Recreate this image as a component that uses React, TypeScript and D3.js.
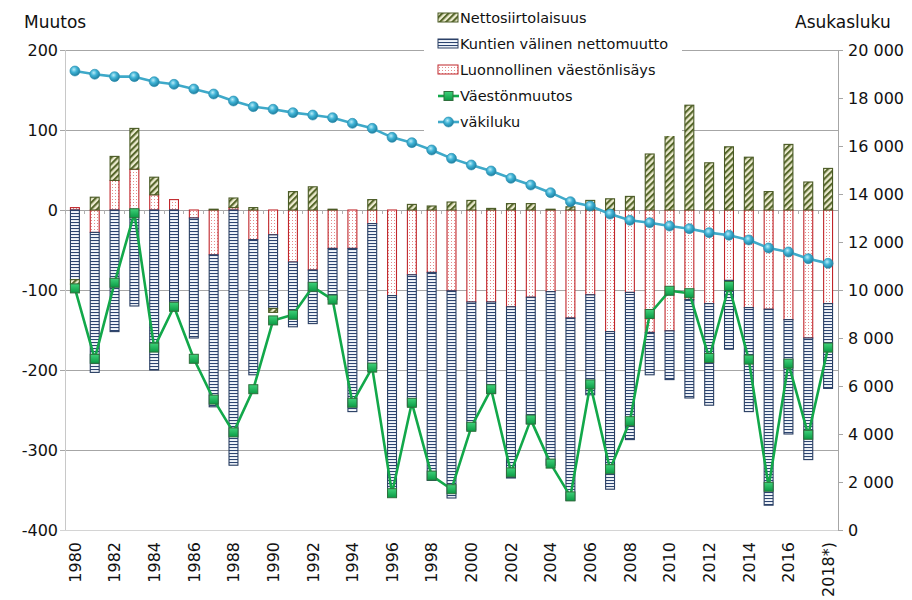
import React from "react";
import * as d3 from "d3";

const years = [1980, 1981, 1982, 1983, 1984, 1985, 1986, 1987, 1988, 1989, 1990, 1991, 1992, 1993, 1994, 1995, 1996, 1997, 1998, 1999, 2000, 2001, 2002, 2003, 2004, 2005, 2006, 2007, 2008, 2009, 2010, 2011, 2012, 2013, 2014, 2015, 2016, 2017, 2018];
const yearLabels = ["1980", "1981", "1982", "1983", "1984", "1985", "1986", "1987", "1988", "1989", "1990", "1991", "1992", "1993", "1994", "1995", "1996", "1997", "1998", "1999", "2000", "2001", "2002", "2003", "2004", "2005", "2006", "2007", "2008", "2009", "2010", "2011", "2012", "2013", "2014", "2015", "2016", "2017", "2018*)"];

// Luonnollinen väestönlisäys
const natural = [3, -28, 37, 51, 19, 13, -10, -56, 3, -37, -31, -65, -75, -48, -48, -17, -107, -81, -78, -101, -115, -115, -121, -109, -102, -135, -106, -152, -103, -153, -151, -112, -117, -88, -122, -124, -137, -160, -117];
// Kuntien välinen nettomuutto
const interMunicipal = [-87, -175, -152, -120, -200, -115, -150, -190, -319, -169, -92, -81, -67, -64, -204, -181, -251, -164, -260, -259, -160, -114, -214, -158, -217, -228, -125, -197, -184, -53, -61, -123, -127, -86, -130, -245, -143, -152, -106];
// Nettosiirtolaisuus
const immigration = [-6, 16, 30, 51, 22, 0, 0, 1, 12, 3, -5, 23, 29, 1, 0, 13, 0, 7, 5, 10, 12, 2, 8, 8, 1, 4, 12, 14, 17, 70, 96, 131, 59, 79, 66, 23, 82, 35, 52];
// Väestönmuutos
const change = [-98, -186, -91, -4, -172, -121, -186, -237, -278, -224, -138, -131, -96, -112, -241, -197, -354, -241, -332, -349, -271, -224, -328, -262, -317, -358, -218, -324, -264, -130, -101, -104, -185, -95, -187, -346, -192, -281, -172];
// väkiluku
const population = [19125, 18990, 18890, 18890, 18680, 18570, 18375, 18167, 17875, 17640, 17530, 17390, 17290, 17180, 16945, 16735, 16360, 16140, 15835, 15485, 15210, 14960, 14655, 14375, 14055, 13680, 13500, 13165, 12905, 12805, 12665, 12555, 12390, 12280, 12085, 11750, 11585, 11305, 11110];

const leftTicks = [-400, -300, -200, -100, 0, 100, 200];
const rightTicks = [0, 2000, 4000, 6000, 8000, 10000, 12000, 14000, 16000, 18000, 20000];
const leftTitle = "Muutos";
const rightTitle = "Asukasluku";
const legendNames = ["Nettosiirtolaisuus", "Kuntien välinen nettomuutto", "Luonnollinen väestönlisäys", "Väestönmuutos", "väkiluku"];

const FONT = "'DejaVu Sans', Verdana, sans-serif";

export default function App() {
  const plot = { left: 65, right: 838, top: 50, bottom: 530 };
  const x = d3.scaleBand<number>().domain(years).range([plot.left, plot.right]).padding(0);
  const yL = d3.scaleLinear().domain([-400, 200]).range([plot.bottom, plot.top]);
  const yR = d3.scaleLinear().domain([0, 20000]).range([plot.bottom, plot.top]);
  const cx = (yr: number) => (x(yr) as number) + x.bandwidth() / 2;
  const bw = x.bandwidth() * 0.45;

  const table = years.map((yr, i) => ({ year: yr, nat: natural[i], inter: interMunicipal[i], imm: immigration[i] }));
  const stacked = d3.stack<any>().keys(["nat", "inter", "imm"]).offset(d3.stackOffsetDiverging)(table);
  const fills: Record<string, string> = { nat: "url(#dots)", inter: "url(#stripes)", imm: "url(#hatch)" };
  const strokes: Record<string, string> = { nat: "#c0262b", inter: "#2a3f63", imm: "#4a5a25" };

  const fmtR = d3.formatLocale({ decimal: ",", thousands: " ", grouping: [3], currency: ["", ""] }).format(",");

  const changeLine = d3.line<number>().x((_, i) => cx(years[i])).y((d) => yL(d))(change) as string;
  const popLine = d3.line<number>().x((_, i) => cx(years[i])).y((d) => yR(d))(population) as string;

  const zeroY = yL(0);
  const step = x.step();
  const legendY = [18, 44, 70, 96, 122];
  const lgX = 438;

  return (
    <div style={{ position: "absolute", left: 0, top: 0, width: 912, height: 600, background: "#fff" }}>
      <svg width={912} height={600} style={{ display: "block", fontFamily: FONT }}>
        <defs>
          <pattern id="hatch" patternUnits="userSpaceOnUse" width="4.4" height="4.4" patternTransform="rotate(45)">
            <rect width="4.4" height="4.4" fill="#ecebcf" />
            <rect width="2.1" height="4.4" fill="#55662a" />
          </pattern>
          <pattern id="stripes" patternUnits="userSpaceOnUse" width="6" height="3">
            <rect width="6" height="3" fill="#f1f5fa" />
            <rect width="6" height="1.05" fill="#2c4470" />
          </pattern>
          <pattern id="dots" patternUnits="userSpaceOnUse" width="3" height="3">
            <rect width="3" height="3" fill="#ffffff" />
            <rect x="1" y="1" width="1" height="1" fill="#e58a8a" />
          </pattern>
          <radialGradient id="ball" cx="40%" cy="35%" r="65%">
            <stop offset="0%" stopColor="#b9ecf8" />
            <stop offset="45%" stopColor="#3fb3d6" />
            <stop offset="100%" stopColor="#1f7f9f" />
          </radialGradient>
          <linearGradient id="sq" x1="0" y1="0" x2="0" y2="1">
            <stop offset="0%" stopColor="#3fd27a" />
            <stop offset="100%" stopColor="#0a9a44" />
          </linearGradient>
        </defs>

        {/* gridlines */}
        {leftTicks.map((t) => (
          <line key={"g" + t} x1={plot.left - 5} x2={plot.right} y1={yL(t)} y2={yL(t)}
            stroke={t === -400 ? "#d4d4d4" : "#a6a6a6"} strokeWidth={1} shapeRendering="crispEdges" />
        ))}
        {/* left axis */}
        <line x1={plot.left} x2={plot.left} y1={plot.top} y2={plot.bottom} stroke="#c8c8c8" shapeRendering="crispEdges" />
        {/* right axis */}
        <line x1={plot.right} x2={plot.right} y1={plot.top} y2={plot.bottom} stroke="#a6a6a6" shapeRendering="crispEdges" />
        {rightTicks.map((t) => (
          <line key={"rt" + t} x1={plot.right} x2={plot.right + 5} y1={yR(t)} y2={yR(t)} stroke="#a6a6a6" shapeRendering="crispEdges" />
        ))}
        {/* category axis ticks at zero */}
        {years.map((yr, i) => (
          <line key={"ct" + yr} x1={plot.left + i * step} x2={plot.left + i * step} y1={zeroY} y2={zeroY + 4} stroke="#b0b0b0" shapeRendering="crispEdges" />
        ))}

        {/* bars */}
        {stacked.map((s) => (
          <g key={s.key}>
            {s.map((d: any, i: number) => {
              const y0 = yL(d[0]);
              const y1 = yL(d[1]);
              const h = Math.abs(y0 - y1);
              if (h < 0.01) return null;
              return (
                <rect key={i} x={cx(years[i]) - bw / 2} y={Math.min(y0, y1)} width={bw} height={h}
                  fill={fills[s.key as string]} stroke={strokes[s.key as string]} strokeWidth={1.1} />
              );
            })}
          </g>
        ))}

        {/* Väestönmuutos line */}
        <path d={changeLine} fill="none" stroke="#12a84a" strokeWidth={2.6} strokeLinejoin="round" />
        {change.map((v, i) => (
          <rect key={"m" + i} x={cx(years[i]) - 4.5} y={yL(v) - 4.5} width={9} height={9}
            fill="url(#sq)" stroke="#2f6f3c" strokeWidth={1} />
        ))}

        {/* väkiluku line */}
        <path d={popLine} fill="none" stroke="#3ea9c9" strokeWidth={2.6} strokeLinejoin="round" />
        {population.map((v, i) => (
          <circle key={"p" + i} cx={cx(years[i])} cy={yR(v)} r={5} fill="url(#ball)" stroke="#2a8fb0" strokeWidth={0.6} />
        ))}

        {/* legend */}
        <rect x={424} y={4} width={258} height={132} fill="#ffffff" />
        <rect x={lgX} y={legendY[0] - 5} width={20} height={9} fill="url(#hatch)" stroke={strokes.imm} strokeWidth={1} />
        <rect x={lgX} y={legendY[1] - 5} width={20} height={9} fill="url(#stripes)" stroke={strokes.inter} strokeWidth={1} />
        <rect x={lgX} y={legendY[2] - 5} width={20} height={9} fill="url(#dots)" stroke={strokes.nat} strokeWidth={1} />
        <line x1={lgX} x2={lgX + 21} y1={legendY[3]} y2={legendY[3]} stroke="#12a84a" strokeWidth={2.6} />
        <rect x={lgX + 10.5 - 4.5} y={legendY[3] - 4.5} width={9} height={9} fill="url(#sq)" stroke="#2f6f3c" strokeWidth={1} />
        <line x1={lgX} x2={lgX + 21} y1={legendY[4]} y2={legendY[4]} stroke="#3ea9c9" strokeWidth={2.6} />
        <circle cx={lgX + 10.5} cy={legendY[4]} r={5} fill="url(#ball)" stroke="#2a8fb0" strokeWidth={0.6} />
        {legendNames.map((n, i) => (
          <text key={n} x={lgX + 22} y={legendY[i]} dy="0.36em" fontSize={14.5} fill="#111">{n}</text>
        ))}

        {/* left tick labels */}
        {leftTicks.map((t) => (
          <text key={"lt" + t} x={58} y={yL(t)} dy="0.36em" textAnchor="end" fontSize={16} fill="#111">{String(t)}</text>
        ))}
        {/* right tick labels */}
        {rightTicks.map((t) => (
          <text key={"rl" + t} x={848} y={yR(t)} dy="0.36em" textAnchor="start" fontSize={16} fill="#111">{fmtR(t)}</text>
        ))}
        {/* x labels */}
        {years.map((yr, i) =>
          i % 2 === 0 ? (
            <text key={"xl" + yr} transform={`translate(${cx(yr)},${plot.bottom + 12}) rotate(-90)`} dy="0.36em"
              textAnchor="end" fontSize={16} fill="#111">{yearLabels[i]}</text>
          ) : null
        )}

        {/* axis titles */}
        <text x={24} y={28} fontSize={17} fill="#111">{leftTitle}</text>
        <text x={795} y={28} fontSize={17} fill="#111">{rightTitle}</text>
      </svg>
    </div>
  );
}
